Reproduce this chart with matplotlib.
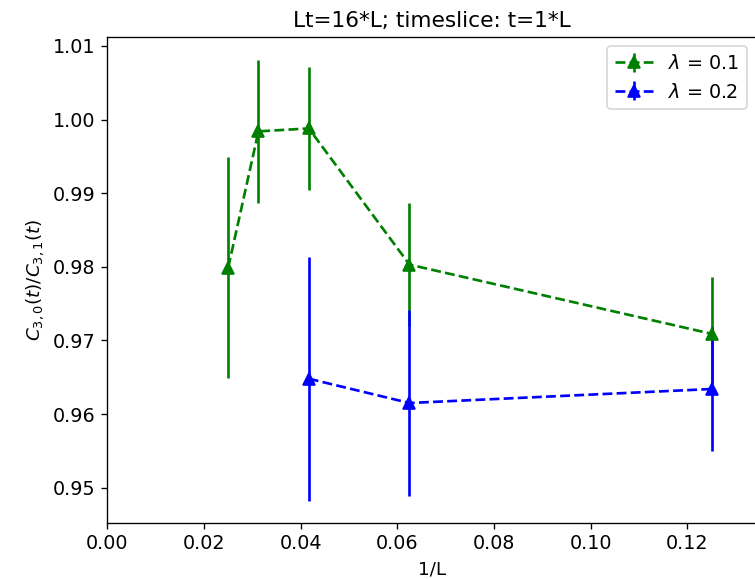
import matplotlib
matplotlib.use("Agg")
import matplotlib.pyplot as plt

# 1/L values and ratios
inv_L_01 = [1 / 40, 1 / 32, 1 / 24, 1 / 16, 1 / 8]
ratio_01 = [0.9799, 0.9984, 0.9988, 0.9803, 0.9709]
err_01 = [0.0150, 0.0097, 0.0083, 0.0084, 0.0077]

inv_L_02 = [1 / 24, 1 / 16, 1 / 8]
ratio_02 = [0.9648, 0.9615, 0.9634]
err_02 = [0.0166, 0.0127, 0.0084]

labels = [r"$\lambda$ = 0.1", r"$\lambda$ = 0.2"]

plt.rcParams["font.size"] = 11.5
plt.rcParams["axes.titlesize"] = 13

dpi = 120
fig = plt.figure(figsize=(755 / dpi, 579 / dpi), dpi=dpi)
ax = fig.add_axes([107.4 / 755, 1 - 522.7 / 579, (756.5 - 107.4) / 755, (522.7 - 36.7) / 579])

ax.errorbar(inv_L_01, ratio_01, yerr=err_01, fmt="--^", color="g",
            lw=1.6, ms=7, label=labels[0])
ax.errorbar(inv_L_02, ratio_02, yerr=err_02, fmt="--^", color="b",
            lw=1.6, ms=7, label=labels[1])

ax.set_xlim(0, 0.1343)
ax.set_ylim(0.94524, 1.01126)
ax.set_xlabel("1/L", fontsize=11)
ax.set_ylabel(r"$C_{3,0}(t)/C_{3,1}(t)$", fontsize=11)
ax.set_title("Lt=16*L; timeslice: t=1*L")
ax.legend(loc="upper right")

fig.savefig("out.png", dpi=dpi)
